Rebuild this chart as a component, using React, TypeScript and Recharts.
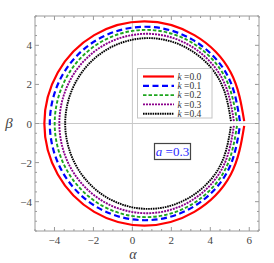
import React from "react";
import { LineChart, Line, XAxis, YAxis, ReferenceLine } from "recharts";

// Shadow curves (alpha, beta), a = 0.3
const k00Alpha = [5.74, 5.05, 3.18, 0.61, -1.96, -3.83, -4.52, -3.83, -1.96, 0.61, 3.18, 5.05, 5.74];
const k00Beta = [0.12, 2.61, 4.52, 5.22, 4.52, 2.61, 0, -2.61, -4.52, -5.22, -4.52, -2.61, -0.12];
const k01Alpha = [5.52, 4.87, 3.08, 0.64, -1.8, -3.59, -4.24, -3.59, -1.8, 0.64, 3.08, 4.87, 5.52];
const k01Beta = [0.12, 2.48, 4.29, 4.95, 4.29, 2.48, 0, -2.48, -4.29, -4.95, -4.29, -2.48, -0.12];
const k02Alpha = [5.37, 4.74, 3.03, 0.69, -1.65, -3.36, -3.99, -3.36, -1.65, 0.69, 3.03, 4.74, 5.37];
const k02Beta = [0.12, 2.4, 4.15, 4.79, 4.15, 2.4, 0, -2.4, -4.15, -4.79, -4.15, -2.4, -0.12];
const k03Alpha = [5.21, 4.61, 2.97, 0.73, -1.51, -3.15, -3.75, -3.15, -1.51, 0.73, 2.97, 4.61, 5.21];
const k03Beta = [0.12, 2.3, 3.98, 4.59, 3.98, 2.3, 0, -2.3, -3.98, -4.59, -3.98, -2.3, -0.12];
const k04Alpha = [5.06, 4.49, 2.94, 0.81, -1.32, -2.87, -3.45, -2.87, -1.32, 0.81, 2.94, 4.49, 5.06];
const k04Beta = [0.12, 2.19, 3.78, 4.37, 3.78, 2.19, 0, -2.19, -3.78, -4.37, -3.78, -2.19, -0.12];

const kLabels = ["0.0", "0.1", "0.2", "0.3", "0.4"];
const xTicks = [-5, -4.5, -4, -3.5, -3, -2.5, -2, -1.5, -1, -0.5, 0, 0.5, 1, 1.5, 2, 2.5, 3, 3.5, 4, 4.5, 5, 5.5, 6, 6.5];
const yTicks = [-5.5, -5, -4.5, -4, -3.5, -3, -2.5, -2, -1.5, -1, -0.5, 0, 0.5, 1, 1.5, 2, 2.5, 3, 3.5, 4, 4.5, 5, 5.5];
const xMajor = [-4, -2, 0, 2, 4, 6];
const yMajor = [-4, -2, 0, 2, 4];
const spinLabel = "0.3";

const toPts = (a: number[], b: number[]) => a.map((v, i) => ({ a: v, b: b[i] }));
const curves = [
  { data: toPts(k00Alpha, k00Beta), color: "#ff0000", width: 2.2, dash: undefined as string | undefined },
  { data: toPts(k01Alpha, k01Beta), color: "#0000ff", width: 2.2, dash: "6 3.5" },
  { data: toPts(k02Alpha, k02Beta), color: "#1ea51e", width: 1.9, dash: "3.5 2" },
  { data: toPts(k03Alpha, k03Beta), color: "#8b008b", width: 1.9, dash: "2 1" },
  { data: toPts(k04Alpha, k04Beta), color: "#000000", width: 1.9, dash: "1.6 0.8" },
];

const FONT = "'Liberation Serif', 'DejaVu Serif', serif";
const TICK_COL = "#9a9a9a";
const LABEL_COL = "#444";

const fmt = (v: number) => (v < 0 ? "\u2212" + Math.abs(v) : String(v));

const BottomTick = (p: any) => {
  const { x, y, payload } = p;
  const major = xMajor.includes(payload.value);
  return (
    <g>
      <line x1={x} x2={x} y1={y} y2={y - (major ? 4 : 2)} stroke={TICK_COL} strokeWidth={1} />
      {major && (
        <text x={x} y={y + 12.5} textAnchor="middle" fontFamily={FONT} fontSize={11} fill={LABEL_COL}>
          {fmt(payload.value)}
        </text>
      )}
    </g>
  );
};
const TopTick = (p: any) => {
  const { x, y, payload } = p;
  const major = xMajor.includes(payload.value);
  return <line x1={x} x2={x} y1={y} y2={y + (major ? 4 : 2)} stroke={TICK_COL} strokeWidth={1} />;
};
const LeftTick = (p: any) => {
  const { x, y, payload } = p;
  const major = yMajor.includes(payload.value);
  return (
    <g>
      <line x1={x} x2={x + (major ? 4 : 2)} y1={y} y2={y} stroke={TICK_COL} strokeWidth={1} />
      {major && (
        <text x={x - 3} y={y + 4} textAnchor="end" fontFamily={FONT} fontSize={11} fill={LABEL_COL}>
          {fmt(payload.value)}
        </text>
      )}
    </g>
  );
};
const RightTick = (p: any) => {
  const { x, y, payload } = p;
  const major = yMajor.includes(payload.value);
  return <line x1={x} x2={x - (major ? 4 : 2)} y1={y} y2={y} stroke={TICK_COL} strokeWidth={1} />;
};

export default function App() {
  const rowY = [76.5, 85.8, 95.1, 104.4, 113.7];
  return (
    <div style={{ position: "absolute", left: 0, top: 0, width: 274, height: 263, background: "#fff" }}>
      <LineChart width={274} height={263} margin={{ top: 0, right: 0, bottom: 0, left: 0 }}>
        <XAxis
          xAxisId="b"
          orientation="bottom"
          type="number"
          dataKey="a"
          domain={[-5, 6.5]}
          ticks={xTicks}
          interval={0}
          allowDataOverflow
          height={32}
          tickSize={0}
          tickMargin={0}
          tickLine={false}
          axisLine={{ stroke: TICK_COL }}
          tick={<BottomTick />}
        />
        <XAxis
          xAxisId="t"
          orientation="top"
          type="number"
          dataKey="a"
          domain={[-5, 6.5]}
          ticks={xTicks}
          interval={0}
          allowDataOverflow
          height={16}
          tickSize={0}
          tickMargin={0}
          tickLine={false}
          axisLine={{ stroke: TICK_COL }}
          tick={<TopTick />}
        />
        <YAxis
          yAxisId="l"
          orientation="left"
          type="number"
          domain={[-5.5, 5.5]}
          ticks={yTicks}
          interval={0}
          allowDataOverflow
          width={35}
          tickSize={0}
          tickMargin={0}
          tickLine={false}
          axisLine={{ stroke: TICK_COL }}
          tick={<LeftTick />}
        />
        <YAxis
          yAxisId="r"
          orientation="right"
          type="number"
          domain={[-5.5, 5.5]}
          ticks={yTicks}
          interval={0}
          allowDataOverflow
          width={15}
          tickSize={0}
          tickMargin={0}
          tickLine={false}
          axisLine={{ stroke: TICK_COL }}
          tick={<RightTick />}
        />
        <ReferenceLine xAxisId="b" yAxisId="l" x={0} stroke="#c8c8c8" strokeWidth={1} />
        <ReferenceLine xAxisId="b" yAxisId="l" y={0} stroke="#c8c8c8" strokeWidth={1} />
        {curves.map((c, i) => (
          <Line
            key={i}
            xAxisId="b"
            yAxisId="l"
            data={c.data}
            dataKey="b"
            type="natural"
            stroke={c.color}
            strokeWidth={c.width}
            strokeDasharray={c.dash}
            dot={false}
            activeDot={false}
            isAnimationActive={false}
          />
        ))}
      </LineChart>
      <svg
        width={274}
        height={263}
        style={{ position: "absolute", left: 0, top: 0, pointerEvents: "none" }}
      >
        <rect x={137.5} y={68.5} width={74.5} height={49.5} fill="#fff" stroke="#c4c4c4" strokeWidth={1} />
        {curves.map((c, i) => (
          <g key={i}>
            <line
              x1={143}
              x2={174}
              y1={rowY[i]}
              y2={rowY[i]}
              stroke={c.color}
              strokeWidth={c.width}
              strokeDasharray={c.dash}
            />
            <text x={177.5} y={rowY[i] + 3.2} fontFamily={FONT} fontSize={9.5} fill="#333">
              <tspan fontStyle="italic">k</tspan> ={kLabels[i]}
            </text>
          </g>
        ))}
        <rect x={154.5} y={143.5} width={36} height={16} fill="#fff" stroke="#444" strokeWidth={1.2} />
        <text x={172.5} y={156} textAnchor="middle" fontFamily={FONT} fontSize={13} fill="#2a2aff">
          <tspan fontStyle="italic">a</tspan> ={spinLabel}
        </text>
        <text x={133} y={258.5} textAnchor="middle" fontFamily={FONT} fontSize={14} fontStyle="italic" fill={LABEL_COL}>
          α
        </text>
        <text x={9} y={128} textAnchor="middle" fontFamily={FONT} fontSize={15} fontStyle="italic" fill={LABEL_COL}>
          β
        </text>
      </svg>
    </div>
  );
}
